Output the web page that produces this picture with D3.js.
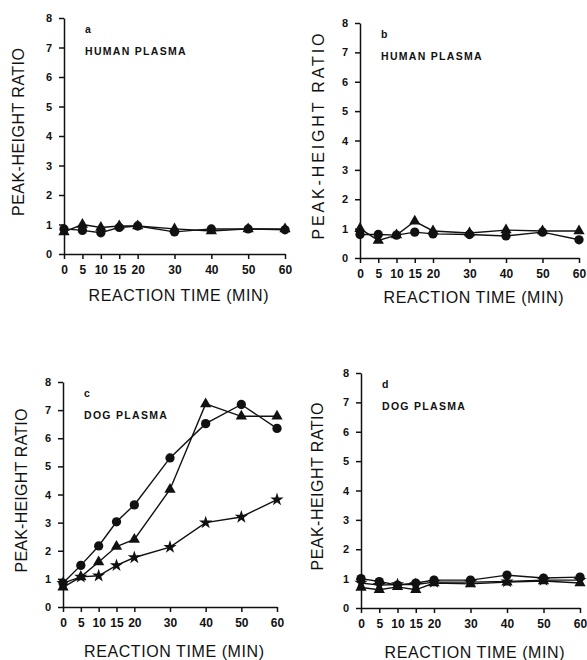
<!DOCTYPE html>
<html lang="en">
<head>
    <meta charset="UTF-8">
    <title>Peak-height ratio vs reaction time</title>
    <script src="https://d3js.org/d3.v7.min.js"></script>
    <style>
        body { margin: 0; background: #fff; font-family: "Liberation Sans", Arial, sans-serif; }
        svg { display: block; }
        .tick text { font-weight: bold; font-size: 11px; fill: #111; }
        .xaxis .tick text { font-size: 12px; }
        .domain, .tick line { stroke: #111; stroke-width: 1.5px; }
        .line { fill: none; stroke: #111; stroke-width: 1.4px; }
        .mark { fill: #111; }
        .ttl { fill: #111; font-size: 16px; }
        .lbl { fill: #111; font-size: 10.5px; font-weight: bold; }
    </style>
</head>
<body>
<svg width="587" height="660"></svg>
<script>
    // reaction time (min) and tick labels
    const times = [0, 5, 10, 15, 20, 30, 40, 50, 60];
    const yTicks = [0, 1, 2, 3, 4, 5, 6, 7, 8];

    // panel a - human plasma
    const aCircle   = [0.85, 0.80, 0.72, 0.90, 0.95, 0.75, 0.85, 0.85, 0.82];
    const aTriangle = [0.75, 1.00, 0.90, 0.95, 0.95, 0.85, 0.78, 0.85, 0.85];

    // panel b - human plasma
    const bCircle   = [0.80, 0.80, 0.78, 0.88, 0.82, 0.80, 0.75, 0.88, 0.62];
    const bTriangle = [1.00, 0.60, 0.78, 1.25, 0.92, 0.85, 0.95, 0.92, 0.92];

    // panel c - dog plasma
    const cCircle   = [0.85, 1.48, 2.17, 3.03, 3.63, 5.30, 6.52, 7.20, 6.35];
    const cTriangle = [0.70, 1.07, 1.60, 2.15, 2.40, 4.18, 7.22, 6.78, 6.78];
    const cStar     = [0.85, 1.07, 1.11, 1.48, 1.76, 2.13, 3.00, 3.20, 3.82];

    // panel d - dog plasma
    const dCircle   = [1.00, 0.90, 0.78, 0.85, 0.95, 0.95, 1.12, 1.02, 1.05];
    const dTriangle = [0.70, 0.62, 0.72, 0.62, 0.85, 0.82, 0.88, 0.92, 0.85];
    const dStar     = [0.85, 0.78, 0.80, 0.80, 0.88, 0.88, 0.90, 0.95, 0.95];

    const panels = [
        { letter: "a", name: "HUMAN PLASMA", x0: 64, x1: 285, yTop: 18, yBot: 254, yTitleX: 18, yTitleLen: 168, yTitleSize: 16, xTitleY: 301,
          series: [{ v: aTriangle, m: "tri" }, { v: aCircle, m: "circ" }] },
        { letter: "b", name: "HUMAN PLASMA", x0: 360, x1: 579, yTop: 23, yBot: 258, yTitleX: 318, yTitleLen: 206, yTitleSize: 19, xTitleY: 303,
          series: [{ v: bTriangle, m: "tri" }, { v: bCircle, m: "circ" }] },
        { letter: "c", name: "DOG PLASMA", x0: 63, x1: 277, yTop: 382, yBot: 607, yTitleX: 21, yTitleLen: 164, yTitleSize: 16, xTitleY: 657,
          series: [{ v: cStar, m: "star" }, { v: cTriangle, m: "tri" }, { v: cCircle, m: "circ" }] },
        { letter: "d", name: "DOG PLASMA", x0: 361, x1: 580, yTop: 373, yBot: 608, yTitleX: 317, yTitleLen: 168, yTitleSize: 16, xTitleY: 658,
          series: [{ v: dStar, m: "star" }, { v: dTriangle, m: "tri" }, { v: dCircle, m: "circ" }] }
    ];

    const svg = d3.select("svg");

    const symbols = {
        circ: d3.symbol().type(d3.symbolCircle).size(68),
        tri: d3.symbol().type(d3.symbolTriangle).size(55),
        star: d3.symbol().type(d3.symbolStar).size(55)
    };

    panels.forEach(p => {
        const x = d3.scaleLinear().domain([0, 60]).range([p.x0, p.x1]);
        const y = d3.scaleLinear().domain([0, 8]).range([p.yBot, p.yTop]);
        const g = svg.append("g");

        g.append("g").attr("class", "xaxis")
            .attr("transform", `translate(0,${p.yBot})`)
            .call(d3.axisBottom(x).tickValues(times).tickSize(5).tickSizeOuter(0).tickPadding(6));

        g.append("g")
            .attr("transform", `translate(${p.x0},0)`)
            .call(d3.axisLeft(y).tickValues(yTicks).tickSize(5).tickSizeOuter(0).tickPadding(7));

        // panel letter and label
        g.append("text").attr("class", "lbl")
            .attr("x", x(0) + 21).attr("y", p.yTop + 15)
            .text(p.letter);
        g.append("text").attr("class", "lbl")
            .attr("x", x(0) + 21).attr("y", p.yTop + 37)
            .attr("letter-spacing", "1.3px")
            .text(p.name);

        // axis titles
        g.append("text").attr("class", "ttl")
            .attr("transform", `translate(${p.yTitleX + 6},${(p.yTop + p.yBot) / 2 - 4}) rotate(-90)`)
            .attr("text-anchor", "middle")
            .attr("font-size", p.yTitleSize)
            .attr("textLength", p.yTitleLen).attr("lengthAdjust", "spacing")
            .text("PEAK-HEIGHT RATIO");
        g.append("text").attr("class", "ttl")
            .attr("x", (p.x0 + p.x1) / 2 + 4).attr("y", p.xTitleY)
            .attr("text-anchor", "middle")
            .attr("textLength", 180).attr("lengthAdjust", "spacing")
            .text("REACTION TIME (MIN)");

        const line = d3.line().x((d, i) => x(times[i])).y(d => y(d));
        p.series.forEach(s => {
            g.append("path").attr("class", "line").attr("d", line(s.v));
            g.selectAll(null)
                .data(s.v)
                .join("path")
                .attr("class", "mark")
                .attr("transform", (d, i) => `translate(${x(times[i])},${y(d)})`)
                .attr("d", symbols[s.m]);
        });
    });
</script>
</body>
</html>
